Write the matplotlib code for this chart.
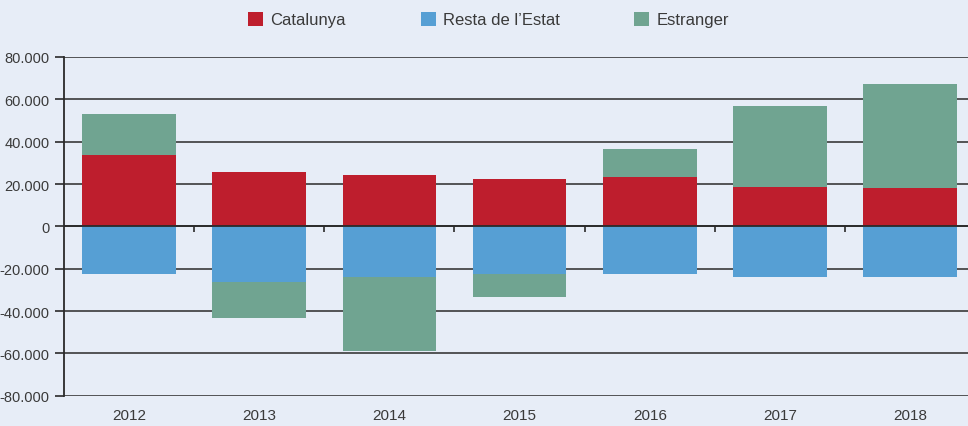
import matplotlib
matplotlib.use("Agg")
import matplotlib.pyplot as plt
from matplotlib.patches import Patch
import numpy as np

years = ["2012", "2013", "2014", "2015", "2016", "2017", "2018"]
catalunya = [33700, 25700, 24300, 22400, 23300, 18600, 18100]
resta_estat = [-22600, -26300, -24000, -22700, -22600, -24000, -24000]
estranger = [19400, -17100, -35000, -10700, 13200, 38300, 49200]
series_names = ["Catalunya", "Resta de l\u2019Estat", "Estranger"]
y_ticks = [-80000, -60000, -40000, -20000, 0, 20000, 40000, 60000, 80000]

colors = ["#be1e2d", "#569fd4", "#70a491"]
bg = "#e7edf7"
txt = "#3a3a3a"

plt.rcParams["font.family"] = ["Liberation Sans", "DejaVu Sans"]

fig = plt.figure(figsize=(9.68, 4.27), dpi=100, facecolor=bg)
ax = fig.add_axes([63.9 / 968, (427 - 396.7) / 427, 1 - 63.9 / 968, (396.7 - 58) / 427])
ax.set_facecolor(bg)

x = np.arange(len(years))
w = 0.72
cat = np.array(catalunya, dtype=float)
res = np.array(resta_estat, dtype=float)
est = np.array(estranger, dtype=float)

ax.bar(x, cat, w, color=colors[0], zorder=2, linewidth=0)
ax.bar(x, res, w, color=colors[1], zorder=2, linewidth=0)
est_bottom = np.where(est >= 0, cat, res)
ax.bar(x, est, w, bottom=est_bottom, color=colors[2], zorder=2, linewidth=0)

ax.set_ylim(y_ticks[0], y_ticks[-1])
ax.set_xlim(-0.5, 6.444)
ax.set_yticks(y_ticks)
ax.set_yticklabels([f"{v:,.0f}".replace(",", ".") for v in y_ticks])
ax.set_xticks(x)
ax.set_xticklabels(years)

for s in ["top", "right", "bottom"]:
    ax.spines[s].set_visible(False)
ax.spines["left"].set_color("#2a2a2a")
ax.spines["left"].set_linewidth(1.3)

ax.set_axisbelow(True)
ax.yaxis.grid(True, color="#3a3a3a", linewidth=1.2)
ax.tick_params(axis="y", length=6.2, width=1.2, color="#2a2a2a", pad=4, labelsize=10.5, labelcolor=txt)
ax.tick_params(axis="x", length=0, pad=9, labelsize=11, labelcolor=txt)

ax.axhline(0, color="#2a2a2a", linewidth=1.3, zorder=3)
for i in range(len(years) - 1):
    ax.vlines(i + 0.5, -2800, 0, color="#2a2a2a", linewidth=1.2, zorder=3)

handles = [Patch(facecolor=c, edgecolor="none") for c in colors]
fig.legend(handles, series_names, loc="center", bbox_to_anchor=(488.5 / 968, 1 - 20.5 / 427),
           ncol=3, frameon=False, fontsize=12, handlelength=0.9, handleheight=0.9,
           handletextpad=0.42, columnspacing=4.5, labelcolor=txt)

fig.savefig("out.png", dpi=100, facecolor=bg)
